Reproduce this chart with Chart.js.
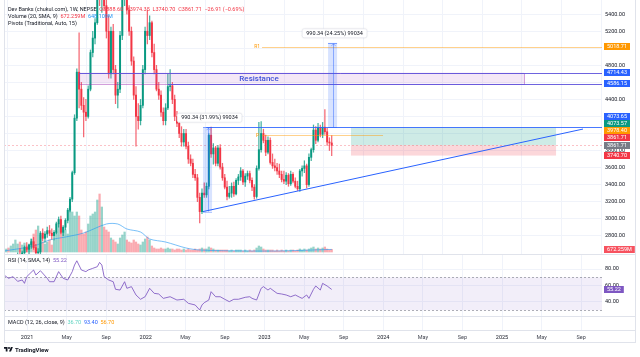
<!DOCTYPE html>
<html>
<head>
<meta charset="utf-8">
<title>Dev Banks weekly</title>
<script src="https://cdn.jsdelivr.net/npm/chart.js@4.4.1/dist/chart.umd.min.js"></script>
<style>
  html,body{margin:0;padding:0;background:#fff;}
  body{width:640px;height:357px;position:relative;overflow:hidden;font-family:Roboto,"Liberation Sans",Arial,sans-serif;}
  canvas{position:absolute;left:0;}
  .ln{position:absolute;background:#e0e3eb;}
  #logo{position:absolute;left:4px;top:345px;height:8px;display:flex;align-items:center;gap:2px;font-size:6px;font-weight:bold;color:#131722;}
</style>
</head>
<body>
<canvas id="cPrice" width="640" height="254" style="top:0px"></canvas>
<canvas id="cRsi" width="640" height="61" style="top:255px"></canvas>
<canvas id="cMacd" width="640" height="27" style="top:316px"></canvas>
<div class="ln" style="left:4px;top:254px;width:631px;height:1px"></div>
<div class="ln" style="left:4px;top:316px;width:631px;height:1px"></div>
<div class="ln" style="left:4px;top:330px;width:631px;height:1px"></div>
<div class="ln" style="left:4px;top:342px;width:631px;height:1px"></div>
<div class="ln" style="left:4px;top:0px;width:1px;height:343px"></div>
<div class="ln" style="left:635px;top:0px;width:1px;height:343px"></div>
<div id="logo"><svg width="9" height="7" viewBox="0 0 36 28"><path d="M14 22H7V11H0V4h14v18zM28 22h-8l7.5-18h8L28 22z" fill="#131722"/><circle cx="20" cy="8" r="4" fill="#131722"/></svg><span>TradingView</span></div>
<script>
// ---------------- DATA (weekly candles) ----------------
const weekStart = 2020.806;      // decimal year of the first weekly candle
const weeksPerYear = 52.18;

const openP = [
 2380,2400,2440,2420,2455,2500,2540,2580,2560,2600,
 2660,2640,2690,2730,2660,2600,2610,2830,2770,2820,
 2860,2830,2800,2840,2940,2990,2840,2900,2980,3100,
 3230,3540,4180,4720,4520,4330,4250,4200,4520,4950,
 5120,5300,5750,5600,5700,5500,5200,4700,5200,4750,
 4450,4520,5150,5650,5750,5450,5200,4850,4450,4200,
 4150,4330,4750,5200,5150,5300,4950,4750,4520,4450,
 4250,4150,4300,4550,4560,4400,4200,4120,4000,3900,
 4000,3850,3700,3650,3520,3480,3250,3083.31,3300,3280,
 3380,3980,3760,3830,3650,3830,3605,3480,3370,3260,
 3300,3380,3290,3450,3490,3560,3430,3500,3530,3450,
 3370,3260,3590,3810,4000,3920,3780,3920,3660,3620,
 3600,3560,3520,3460,3440,3510,3410,3520,3440,3380,
 3350,3560,3590,3620,3400,3720,3810,4040,3920,4070,
 3990,4073.57,4020,3900,3888.60
];
const highP = [
 2430,2460,2480,2470,2520,2560,2600,2650,2620,2680,
 2720,2700,2760,2780,2700,2650,2850,2880,2850,2900,
 2920,2880,2860,2960,3020,3030,2920,3000,3120,3250,
 3560,4220,4760,5180,4600,4420,4400,4560,4980,5200,
 5350,5800,5950,5800,5900,5600,5380,5250,5280,4800,
 4600,5200,5700,5900,5850,5500,5250,4900,4550,4350,
 4400,4800,5250,5450,5380,5320,5050,4800,4600,4500,
 4300,4350,4700,4750,4600,4450,4260,4180,4080,4050,
 4050,3900,3750,3700,3580,3520,3300,3350,3420,3420,
 4000,4073.65,3880,3850,3860,3870,3650,3520,3440,3380,
 3420,3430,3470,3520,3600,3580,3530,3560,3560,3480,
 3400,3620,4130,4140,4050,3980,3960,3950,3760,3700,
 3650,3640,3560,3560,3540,3530,3560,3540,3480,3440,
 3580,3620,3680,3640,3760,3830,4100,4080,4120,4100,
 4130,4280,4060,3950,3974.35
];
const lowP = [
 2330,2370,2400,2390,2430,2470,2510,2540,2520,2570,
 2610,2580,2650,2640,2560,2540,2590,2740,2720,2780,
 2800,2760,2750,2820,2900,2820,2800,2870,2950,3080,
 3200,3520,4150,4300,4280,3960,4150,4180,4500,4900,
 5050,5280,5500,5420,5450,5120,4650,4650,4700,4350,
 4300,4480,5100,5500,5400,5150,4800,4400,3850,4050,
 4100,4300,4700,5050,5100,4900,4700,4500,4400,4200,
 4100,4100,4280,4500,4350,4150,4080,3950,3850,3850,
 3820,3650,3620,3480,3450,3200,2950,3060,3250,3250,
 3350,3720,3640,3620,3620,3580,3450,3350,3220,3240,
 3250,3260,3280,3400,3450,3400,3380,3460,3420,3330,
 3230,3240,3570,3780,3890,3740,3760,3640,3590,3560,
 3520,3480,3430,3410,3400,3380,3390,3420,3360,3330,
 3320,3500,3540,3360,3380,3680,3780,3880,3900,3960,
 3950,3990,3860,3800,3740.70
];
const closeP = [
 2400,2440,2420,2455,2500,2540,2580,2560,2600,2660,
 2640,2690,2730,2660,2600,2610,2830,2770,2820,2860,
 2830,2800,2840,2940,2990,2840,2900,2980,3100,3230,
 3540,4180,4720,4520,4330,4250,4200,4520,4950,5120,
 5300,5750,5600,5700,5500,5200,4700,5200,4750,4450,
 4520,5150,5650,5750,5450,5200,4850,4450,4200,4150,
 4330,4750,5200,5150,5300,4950,4750,4520,4450,4250,
 4150,4300,4550,4560,4400,4200,4120,4000,3900,4000,
 3850,3700,3650,3520,3480,3250,3083.31,3300,3280,3380,
 3980,3760,3830,3650,3830,3605,3480,3370,3260,3300,
 3380,3290,3450,3490,3560,3430,3500,3530,3450,3370,
 3260,3590,3810,4000,3920,3780,3920,3660,3620,3600,
 3560,3520,3460,3440,3510,3410,3520,3440,3380,3350,
 3560,3590,3620,3400,3720,3810,4040,3920,4070,3990,
 4073.57,4020,3900,3888.62,3861.71
];
const volumeM = [
 500,750,1000,1500,2000,3000,2000,2500,1750,2250,
 1500,2000,3250,4500,5500,6500,4250,2500,2000,2500,
 3000,1750,3000,5000,7000,8000,6000,5500,4500,11500,
 10000,9000,10000,9000,5500,4500,5000,7000,9000,9500,
 10000,13000,14500,11250,6250,5500,5000,3500,3000,2500,
 2000,3500,4250,5000,3000,2500,2250,3000,2500,2000,
 1750,2500,3250,3750,3000,1500,1000,750,750,1000,
 750,750,1000,750,750,500,750,750,500,750,
 500,750,500,500,750,500,750,1000,750,750,
 1250,1000,750,500,500,500,500,500,500,250,
 500,250,500,500,500,250,500,250,500,250,
 500,1000,1500,1250,750,500,500,500,500,250,
 500,250,500,250,500,250,500,500,250,500,
 750,500,750,500,750,1000,1250,750,1000,750,
 1000,1250,750,500,672.259
];
const volSmaWeek = [0,13,20,27,35,45,50,54,60,64,71,80,86,100,120,144];
const volSmaM    = [250,1500,3000,3750,4750,7000,7000,5750,5000,3250,2500,1000,500,300,250,648.109];

const rsiWeek = [0,2,4,6,8,9,10,13,14,16,19,20,22,24,26,28,30,31,32,34,36,37,39,41,42,43,44,46,48,49,
 51,53,54,56,58,60,62,64,66,68,70,73,76,79,81,84,86,87,88,90,91,93,95,97,99,101,103,106,108,109,
 111,113,114,116,117,120,122,124,126,128,130,131,133,134,136,137,139,140,142,144];
const rsiVal = [72.7,68.7,70.7,65,66.7,62.6,70.7,78.8,72.7,77.9,68.7,64.6,64.6,76.8,68.7,66.7,76.8,84.8,90,78.8,
 76.8,78.8,80.8,82.8,88,84.8,70.7,66.7,64.6,55.4,54.5,64.6,56.6,58.6,48.5,43.3,46.4,56.6,50.5,49.7,
 44.4,46.4,42.4,43.3,38.4,36.4,30.3,36.4,39.2,42.4,52.5,46.4,46.4,43.3,40.4,43.3,43.3,45.7,46.4,44.4,
 42.4,56.6,58.6,54.5,56.6,50.5,49.7,48.5,46.4,48.5,45.7,44.4,48.5,44.4,55.4,59.4,54.5,62.6,59.4,55.22];

const priceTicks = [2800,3000,3200,3400,3600,3800,4000,4200,4400,4600,4800,5000,5200,5400];
const rsiTicks = [40,60,80];
const timeTicks = [2021,2021.333,2021.667,2022,2022.333,2022.667,2023,2023.333,2023.667,2024,2024.333,2024.667,2025,2025.333,2025.667];
const timeTickLabels = ['2021','May','Sep','2022','May','Sep','2023','May','Sep','2024','May','Sep','2025','May','Sep'];

// drawings (in time / price units)
const resistance = {t0:2021.438, t1:2025.185, top:4714.43, bottom:4586.15, labelT:2022.954, text:'Resistance'};
const bottomRayT0 = 2022.187;
const levelLine = {t0:2022.51, price:4073.65};
const pivots = {t0:2022.979, pEnd:2023.998, r1:5018.71, p:3978.40};
const longPos = {t0:2023.728, t1:2025.455, target:4073.57, entry:3861.71, stop:3740.70};
const measures = [
  {t0:2022.482, t1:2022.558, from:3083.31, to:4073.65, text:'990.34 (31.99%) 99034'},
  {t0:2023.535, t1:2023.611, from:4073.65, to:5063.99, text:'990.34 (24.25%) 99034'}
];
const trend = {t0:2022.482, p0:3083.31, t1:2025.682, p1:4052};
const lastVolume = 672.259, lastVolSma = 648.109, lastRsi = 55.22;

// ---------------- CHARTS ----------------
const FONT = 'Roboto, "Liberation Sans", Arial, sans-serif';
Chart.defaults.font.family = FONT;
Chart.defaults.font.size = 5.5;
Chart.defaults.color = '#131722';

const UP = '#089981', DN = '#f23645';
const xMin = 2020.806, xMax = 2025.842;
const tOf = i => weekStart + i / weeksPerYear;
const times = closeP.map((c, i) => tOf(i));
const isUp = closeP.map((c, i) => c >= openP[i]);
const candleCol = isUp.map(u => u ? UP : DN);
const wickCol = isUp.map(u => u ? 'rgba(8,153,129,0.75)' : 'rgba(242,54,69,0.75)');
const volCol = isUp.map(u => u ? 'rgba(8,153,129,0.42)' : 'rgba(242,54,69,0.42)');

function xScale(show) {
  return {
    type: 'linear', min: xMin, max: xMax, offset: false, position: 'bottom',
    afterBuildTicks: s => { s.ticks = timeTicks.map(v => ({value: v})); },
    afterFit: s => { s.height = show ? 13 : 0; s.paddingLeft = 0; s.paddingRight = 0; },
    grid: {color: '#f0f3fa', drawTicks: false},
    border: {display: false},
    ticks: {display: show, autoSkip: false, maxRotation: 0, padding: 4,
      callback: (v, i) => timeTickLabels[i],
      color: ctx => /^\d/.test(timeTickLabels[ctx.index] || '') ? '#131722' : '#434651'}
  };
}
function yRight(min, max, ticks, fmt) {
  return {
    position: 'right', min, max,
    afterBuildTicks: s => { s.ticks = ticks.map(v => ({value: v})); },
    afterFit: s => { s.width = 38; s.paddingTop = 0; s.paddingBottom = 0; },
    grid: {color: '#f0f3fa', drawTicks: false},
    border: {display: false},
    ticks: {autoSkip: false, padding: 3, callback: fmt, color: '#131722'}
  };
}
const px = v => Math.round(v) + 0.5;

function drawSegs(ctx, x, y, segs) {
  for (const [txt, col] of segs) { ctx.fillStyle = col; ctx.fillText(txt, x, y); x += ctx.measureText(txt).width; }
}
function drawTag(ctx, yc, txt, bg) {
  ctx.font = '5.5px ' + FONT;
  const w = ctx.measureText(txt).width + 6;
  ctx.fillStyle = bg;
  ctx.fillRect(604, Math.round(yc - 3.5), w, 7);
  ctx.fillStyle = '#ffffff';
  ctx.textAlign = 'left'; ctx.textBaseline = 'middle';
  ctx.fillText(txt, 607, Math.round(yc - 3.5) + 3.7);
}
function roundRect(ctx, x, y, w, h, r) {
  ctx.beginPath();
  ctx.moveTo(x + r, y); ctx.lineTo(x + w - r, y); ctx.quadraticCurveTo(x + w, y, x + w, y + r);
  ctx.lineTo(x + w, y + h - r); ctx.quadraticCurveTo(x + w, y + h, x + w - r, y + h);
  ctx.lineTo(x + r, y + h); ctx.quadraticCurveTo(x, y + h, x, y + h - r);
  ctx.lineTo(x, y + r); ctx.quadraticCurveTo(x, y, x + r, y); ctx.closePath();
}
function hLine(ctx, x0, x1, y, col, w) {
  ctx.strokeStyle = col; ctx.lineWidth = w || 1;
  ctx.beginPath(); ctx.moveTo(x0, px(y)); ctx.lineTo(x1, px(y)); ctx.stroke();
}

const pricePlugin = {
  id: 'priceDecor',
  beforeDatasetsDraw(chart) {
    const {ctx, chartArea: a, scales: {y}} = chart;
    ctx.save();
    ctx.setLineDash([2, 2]);
    hLine(ctx, a.left, a.right, y.getPixelForValue(closeP[closeP.length - 1]), 'rgba(242,54,69,0.3)');
    ctx.restore();
  },
  afterDatasetsDraw(chart) {
    const {ctx, chartArea: a, scales: {x, y}} = chart;
    const X = t => x.getPixelForValue(t), Y = v => y.getPixelForValue(v);
    ctx.save();
    ctx.beginPath(); ctx.rect(a.left, a.top, a.right - a.left, a.bottom - a.top); ctx.clip();

    // resistance zone
    const rx0 = X(resistance.t0), rx1 = X(resistance.t1), ry0 = Y(resistance.top), ry1 = Y(resistance.bottom);
    ctx.fillStyle = 'rgba(186,104,200,0.16)';
    ctx.fillRect(rx0, ry0, rx1 - rx0, ry1 - ry0);
    ctx.strokeStyle = 'rgba(156,39,176,0.45)'; ctx.lineWidth = 1;
    ctx.strokeRect(px(rx0), px(ry0), Math.round(rx1 - rx0), Math.round(ry1 - ry0));
    hLine(ctx, rx0, a.right, ry0, 'rgba(94,83,219,0.9)');
    hLine(ctx, X(bottomRayT0), a.right, ry1, 'rgba(94,83,219,0.9)');

    // long position
    const lx0 = X(longPos.t0), lx1 = X(longPos.t1);
    ctx.fillStyle = 'rgba(8,153,129,0.2)';
    ctx.fillRect(lx0, Y(longPos.target), lx1 - lx0, Y(longPos.entry) - Y(longPos.target));
    ctx.fillStyle = 'rgba(242,54,69,0.2)';
    ctx.fillRect(lx0, Y(longPos.entry), lx1 - lx0, Y(longPos.stop) - Y(longPos.entry));

    // horizontal level
    hLine(ctx, X(levelLine.t0), a.right, Y(levelLine.price), 'rgba(41,98,255,0.85)');

    // pivots
    hLine(ctx, X(pivots.t0), a.right, Y(pivots.r1), 'rgba(255,152,0,0.45)');
    hLine(ctx, X(pivots.t0), X(pivots.pEnd), Y(pivots.p), 'rgba(255,152,0,0.45)');
    ctx.font = '5px ' + FONT; ctx.fillStyle = '#ff9800'; ctx.textAlign = 'right'; ctx.textBaseline = 'middle';
    ctx.fillText('R1', X(pivots.t0) - 2, Y(pivots.r1));
    ctx.fillText('P', X(pivots.t0) - 3, Y(pivots.p));

    // measures
    for (const m of measures) {
      const mx0 = X(m.t0), mx1 = X(m.t1), my0 = Y(m.to), my1 = Y(m.from);
      ctx.fillStyle = 'rgba(41,98,255,0.18)';
      ctx.fillRect(mx0, my0, mx1 - mx0, my1 - my0);
      hLine(ctx, mx0, mx1, my0, 'rgba(41,98,255,0.55)');
      hLine(ctx, mx0, mx1, my1, 'rgba(41,98,255,0.35)');
      const cx = Math.round((mx0 + mx1) / 2) + 0.5;
      ctx.strokeStyle = 'rgba(41,98,255,0.45)'; ctx.lineWidth = 1;
      ctx.beginPath(); ctx.moveTo(cx, my1); ctx.lineTo(cx, my0 + 1); ctx.stroke();
      ctx.beginPath(); ctx.moveTo(cx - 2, my0 + 3); ctx.lineTo(cx, my0 + 1); ctx.lineTo(cx + 2, my0 + 3); ctx.stroke();
    }

    // trend line
    ctx.strokeStyle = '#2962ff'; ctx.lineWidth = 1;
    ctx.beginPath(); ctx.moveTo(X(trend.t0), Y(trend.p0)); ctx.lineTo(X(trend.t1), Y(trend.p1)); ctx.stroke();

    // resistance text
    ctx.font = '500 8px ' + FONT; ctx.fillStyle = '#3f51d8'; ctx.textAlign = 'center'; ctx.textBaseline = 'middle';
    ctx.fillText(resistance.text, X(resistance.labelT), (ry0 + ry1) / 2 + 0.5);

    // measure labels
    ctx.font = '5.5px ' + FONT;
    for (const m of measures) {
      const cx = (X(m.t0) + X(m.t1)) / 2 + 2;
      const cy = Y(m.to) - 9.5;
      const w = ctx.measureText(m.text).width + 8;
      ctx.shadowColor = 'rgba(0,0,0,0.12)'; ctx.shadowBlur = 2;
      roundRect(ctx, cx - w / 2, cy - 4.5, w, 9, 2);
      ctx.fillStyle = '#ffffff'; ctx.fill();
      ctx.shadowBlur = 0; ctx.shadowColor = 'transparent';
      ctx.strokeStyle = '#e0e3eb'; ctx.lineWidth = 0.6; ctx.stroke();
      ctx.fillStyle = '#131722'; ctx.textAlign = 'center'; ctx.textBaseline = 'middle';
      ctx.fillText(m.text, cx, cy + 0.3);
    }
    ctx.restore();
  },
  afterDraw(chart) {
    const {ctx, scales: {y, yv}} = chart;
    ctx.save();
    // axis tags, stacked to avoid overlap
    const tags = [
      {v: pivots.r1, c: '#ff9800'},
      {v: resistance.top, c: '#2962ff'},
      {v: resistance.bottom, c: '#2962ff'},
      {v: levelLine.price, c: '#2962ff'},
      {v: longPos.target, c: '#089981'},
      {v: pivots.p, c: '#ff9800'},
      {v: closeP[closeP.length - 1], c: '#f23645'},
      {v: longPos.entry, c: '#787b86'},
      {v: longPos.stop, c: '#f23645'}
    ].map(t => ({...t, y: y.getPixelForValue(t.v)}));
    const H = 7.3;
    for (let j = tags.length - 2; j >= 0; j--) {
      if (tags[j].y > tags[j + 1].y - H) tags[j].y = tags[j + 1].y - H;
    }
    tags.forEach(t => drawTag(ctx, t.y, t.v.toFixed(2), t.c));
    drawTag(ctx, yv.getPixelForValue(lastVolume), lastVolume.toFixed(3) + 'M', '#f7525f');

    // legend
    ctx.font = '5.5px ' + FONT; ctx.textAlign = 'left'; ctx.textBaseline = 'middle';
    const o = openP.length - 1;
    const chg = closeP[o] - closeP[o - 1];
    drawSegs(ctx, 8, 10, [
      ['Dev Banks (chukul.com), 1W, NEPSE  ', '#131722'],
      ['O' + openP[o].toFixed(2) + '  H' + highP[o].toFixed(2) + '  L' + lowP[o].toFixed(2) + '  C' + closeP[o].toFixed(2) +
       '  −' + Math.abs(chg).toFixed(2) + ' (−' + Math.abs(chg / closeP[o - 1] * 100).toFixed(2) + '%)', '#f23645']
    ]);
    drawSegs(ctx, 8, 17, [['Volume (20, SMA, 9)  ', '#131722'], [lastVolume.toFixed(3) + 'M  ', '#f23645'], [lastVolSma.toFixed(3) + 'M', '#2196f3']]);
    drawSegs(ctx, 8, 24, [['Pivots (Traditional, Auto, 15)', '#131722']]);
    ctx.restore();
  }
};

new Chart(document.getElementById('cPrice'), {
  type: 'bar',
  data: {
    datasets: [
      {type: 'bar', data: times.map((t, i) => ({x: t, y: [openP[i], closeP[i]]})), backgroundColor: candleCol,
       barThickness: 1.3, grouped: false, order: 0, yAxisID: 'y', minBarLength: 0.6},
      {type: 'bar', data: times.map((t, i) => ({x: t, y: [lowP[i], highP[i]]})), backgroundColor: wickCol,
       barThickness: 0.6, grouped: false, order: 1, yAxisID: 'y'},
      {type: 'line', data: volSmaWeek.map((w, i) => ({x: tOf(w), y: volSmaM[i]})), borderColor: 'rgba(33,150,243,0.6)',
       borderWidth: 1, pointRadius: 0, tension: 0.3, order: 2, yAxisID: 'yv'},
      {type: 'bar', data: times.map((t, i) => ({x: t, y: volumeM[i]})), backgroundColor: volCol,
       barThickness: 1.6, grouped: false, order: 3, yAxisID: 'yv'}
    ]
  },
  options: {
    responsive: false, animation: false, devicePixelRatio: 1,
    layout: {padding: {left: 4, right: 0, top: 0, bottom: 0}},
    plugins: {legend: {display: false}, tooltip: {enabled: false}},
    scales: {
      x: xScale(false),
      y: yRight(2585.4, 5566.7, priceTicks, v => Number(v).toFixed(2)),
      yv: {display: false, min: -500, max: 63000}
    }
  },
  plugins: [pricePlugin]
});

const rsiPlugin = {
  id: 'rsiDecor',
  beforeDatasetsDraw(chart) {
    const {ctx, chartArea: a, scales: {y}} = chart;
    ctx.save();
    const y70 = y.getPixelForValue(70), y30 = y.getPixelForValue(30);
    ctx.fillStyle = 'rgba(126,87,194,0.1)';
    ctx.fillRect(a.left, y70, a.right - a.left, y30 - y70);
    ctx.setLineDash([2, 2]);
    hLine(ctx, a.left, a.right, y70, 'rgba(120,123,134,0.6)');
    hLine(ctx, a.left, a.right, y30, 'rgba(120,123,134,0.6)');
    ctx.restore();
  },
  afterDraw(chart) {
    const {ctx, scales: {y}} = chart;
    ctx.save();
    drawTag(ctx, y.getPixelForValue(lastRsi), lastRsi.toFixed(2), '#7e57c2');
    ctx.font = '5.5px ' + FONT; ctx.textAlign = 'left'; ctx.textBaseline = 'middle';
    drawSegs(ctx, 8, 6, [['RSI (14, SMA, 14)  ', '#131722'], [lastRsi.toFixed(2), '#7e57c2']]);
    ctx.restore();
  }
};
new Chart(document.getElementById('cRsi'), {
  type: 'line',
  data: {datasets: [{data: rsiWeek.map((w, i) => ({x: tOf(w), y: rsiVal[i]})), borderColor: 'rgba(126,87,194,0.85)',
    borderWidth: 1, pointRadius: 0, tension: 0}]},
  options: {
    responsive: false, animation: false, devicePixelRatio: 1,
    layout: {padding: {left: 4, right: 0, top: 0, bottom: 0}},
    plugins: {legend: {display: false}, tooltip: {enabled: false}},
    scales: {x: xScale(false), y: yRight(23.03, 96.97, rsiTicks, v => Number(v).toFixed(2))}
  },
  plugins: [rsiPlugin]
});

const macdPlugin = {
  id: 'macdDecor',
  afterDraw(chart) {
    const {ctx} = chart;
    ctx.save();
    ctx.font = '5.5px ' + FONT; ctx.textAlign = 'left'; ctx.textBaseline = 'middle';
    drawSegs(ctx, 8, 7, [['MACD (12, 26, close, 9)  ', '#131722'], ['36.70  ', '#5fd3c0'], ['93.40  ', '#2962ff'], ['56.70', '#ff9800']]);
    ctx.restore();
  }
};
new Chart(document.getElementById('cMacd'), {
  type: 'line',
  data: {datasets: []},
  options: {
    responsive: false, animation: false, devicePixelRatio: 1,
    layout: {padding: {left: 4, right: 0, top: 0, bottom: 0}},
    plugins: {legend: {display: false}, tooltip: {enabled: false}},
    scales: {
      x: xScale(true),
      y: {position: 'right', min: 0, max: 1, ticks: {display: false}, grid: {display: false}, border: {display: false},
          afterFit: s => { s.width = 38; s.paddingTop = 0; s.paddingBottom = 0; }}
    }
  },
  plugins: [macdPlugin]
});
</script>
</body>
</html>
